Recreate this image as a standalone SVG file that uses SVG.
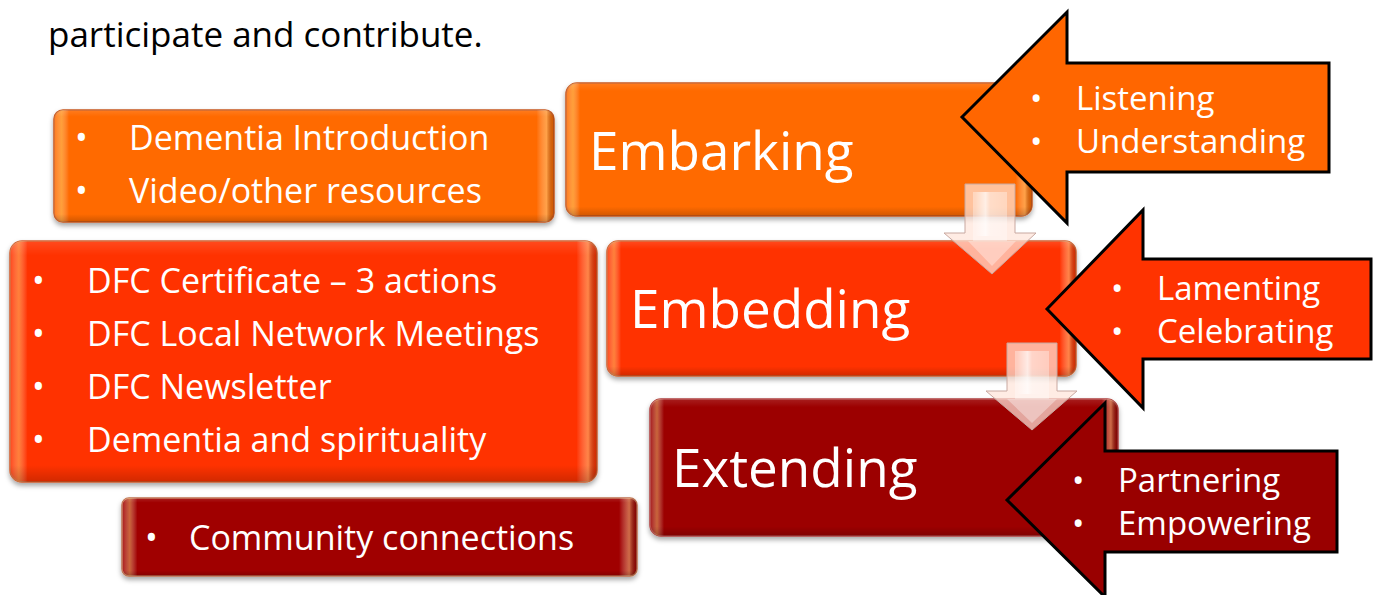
<svg xmlns="http://www.w3.org/2000/svg" width="1378" height="595" viewBox="0 0 1378 595">
<style>
  .t { font-family: "Open Sans", "Noto Sans", "Liberation Sans", sans-serif; fill: #ffffff; }
  .sm { font-size: 34px; }
  .ar { font-size: 33px; }
  .big { font-size: 53px; }
  .head { font-family: "Open Sans", "Noto Sans", "Liberation Sans", sans-serif; font-size: 35px; fill: #000000; }
  .arrow { stroke: #000000; stroke-width: 3; stroke-linejoin: miter; }
  .down { fill: #FFE4DA; fill-opacity: 0.72; stroke: #C8A8A0; stroke-width: 1; }
  .downin { fill: #FFFFFF; fill-opacity: 0.35; }
</style>
<defs>
  <filter id="sh" x="-5%" y="-10%" width="110%" height="125%">
    <feDropShadow dx="0" dy="3" stdDeviation="2.5" flood-color="#000000" flood-opacity="0.35"/>
  </filter>
  <linearGradient id="gloss" x1="0" y1="0" x2="1" y2="0">
    <stop offset="0" stop-color="#ffffff" stop-opacity="0.10"/>
    <stop offset="0.015" stop-color="#ffe080" stop-opacity="0.45"/>
    <stop offset="0.03" stop-color="#ffffff" stop-opacity="0"/>
    <stop offset="0.965" stop-color="#ffffff" stop-opacity="0"/>
    <stop offset="0.985" stop-color="#ffd890" stop-opacity="0.5"/>
    <stop offset="1" stop-color="#000000" stop-opacity="0.15"/>
  </linearGradient>
  <linearGradient id="glossV" x1="0" y1="0" x2="0" y2="1">
    <stop offset="0" stop-color="#ffffff" stop-opacity="0.12"/>
    <stop offset="0.06" stop-color="#ffffff" stop-opacity="0"/>
    <stop offset="0.93" stop-color="#000000" stop-opacity="0"/>
    <stop offset="1" stop-color="#000000" stop-opacity="0.18"/>
  </linearGradient>
  <linearGradient id="dg" x1="0" y1="0" x2="1" y2="0">
    <stop offset="0" stop-color="#ffffff" stop-opacity="0"/>
    <stop offset="0.35" stop-color="#ffffff" stop-opacity="0.6"/>
    <stop offset="0.5" stop-color="#ffffff" stop-opacity="0.15"/>
    <stop offset="1" stop-color="#ffffff" stop-opacity="0"/>
  </linearGradient>
</defs>

<text class="head" x="48" y="47">participate and contribute.</text>

<g id="node-intro">
  <rect x="54" y="110" width="500" height="112" rx="9" fill="#FF6A00" stroke="#C85A20" stroke-width="1.5" filter="url(#sh)"/>
  <rect x="54" y="110" width="500" height="112" rx="9" fill="url(#gloss)"/>
  <rect x="54" y="110" width="500" height="112" rx="9" fill="url(#glossV)"/>
  <text class="t sm" x="75" y="150">•</text>
  <text class="t sm" x="129" y="150">Dementia Introduction</text>
  <text class="t sm" x="75" y="203">•</text>
  <text class="t sm" x="129" y="203">Video/other resources</text>
</g>

<g id="node-dfc">
  <rect x="10" y="241" width="587" height="241" rx="12" fill="#FF3300" stroke="#D06030" stroke-width="1.5" filter="url(#sh)"/>
  <rect x="10" y="241" width="587" height="241" rx="12" fill="url(#gloss)"/>
  <rect x="10" y="241" width="587" height="241" rx="12" fill="url(#glossV)"/>
  <text class="t sm" x="32" y="293">•</text>
  <text class="t sm" x="87" y="293">DFC Certificate – 3 actions</text>
  <text class="t sm" x="32" y="346">•</text>
  <text class="t sm" x="87" y="346">DFC Local Network Meetings</text>
  <text class="t sm" x="32" y="399">•</text>
  <text class="t sm" x="87" y="399">DFC Newsletter</text>
  <text class="t sm" x="32" y="452">•</text>
  <text class="t sm" x="87" y="452">Dementia and spirituality</text>
</g>

<g id="node-community">
  <rect x="122" y="498" width="515" height="78" rx="7" fill="#A00000" stroke="#C07050" stroke-width="1.5" filter="url(#sh)"/>
  <rect x="122" y="498" width="515" height="78" rx="7" fill="url(#gloss)"/>
  <rect x="122" y="498" width="515" height="78" rx="7" fill="url(#glossV)"/>
  <text class="t sm" x="145" y="550">•</text>
  <text class="t sm" x="189" y="550">Community connections</text>
</g>

<g id="node-embarking">
  <rect x="566" y="83" width="466" height="133" rx="11" fill="#FF6A00" stroke="#C85A20" stroke-width="1.5" filter="url(#sh)"/>
  <rect x="566" y="83" width="466" height="133" rx="11" fill="url(#gloss)"/>
  <rect x="566" y="83" width="466" height="133" rx="11" fill="url(#glossV)"/>
  <text class="t big" x="589" y="170">Embarking</text>
</g>

<g id="node-listening">
  <polygon class="arrow" fill="#FF6600" points="962,117 1067,12 1067,63 1329,63 1329,172 1067,172 1067,223"/>
  <text class="t ar" x="1030" y="110">•</text>
  <text class="t ar" x="1076" y="110">Listening</text>
  <text class="t ar" x="1030" y="153">•</text>
  <text class="t ar" x="1076" y="153">Understanding</text>
</g>

<g id="node-embedding">
  <rect x="607" y="241" width="469" height="135" rx="11" fill="#FF3300" stroke="#D06030" stroke-width="1.5" filter="url(#sh)"/>
  <rect x="607" y="241" width="469" height="135" rx="11" fill="url(#gloss)"/>
  <rect x="607" y="241" width="469" height="135" rx="11" fill="url(#glossV)"/>
  <text class="t big" x="630" y="328">Embedding</text>
</g>

<g id="node-lamenting">
  <polygon class="arrow" fill="#FF3300" points="1047,309 1143,210 1143,259 1371,259 1371,359 1143,359 1143,408"/>
  <text class="t ar" x="1111" y="300">•</text>
  <text class="t ar" x="1157" y="300">Lamenting</text>
  <text class="t ar" x="1111" y="343">•</text>
  <text class="t ar" x="1157" y="343">Celebrating</text>
</g>

<g id="node-extending">
  <rect x="650" y="399" width="468" height="137" rx="11" fill="#9C0000" stroke="#B04040" stroke-width="1.5" filter="url(#sh)"/>
  <rect x="650" y="399" width="468" height="137" rx="11" fill="url(#gloss)"/>
  <rect x="650" y="399" width="468" height="137" rx="11" fill="url(#glossV)"/>
  <text class="t big" x="672" y="487">Extending</text>
</g>

<g id="node-partnering">
  <polygon class="arrow" fill="#990000" points="1007,500 1105,403 1105,451 1337,451 1337,552 1105,552 1105,597"/>
  <text class="t ar" x="1072" y="492">•</text>
  <text class="t ar" x="1118" y="492">Partnering</text>
  <text class="t ar" x="1072" y="535">•</text>
  <text class="t ar" x="1118" y="535">Empowering</text>
</g>

<g id="connectors">
  <g id="down-1">
    <polygon class="down" points="965,184 1015,184 1015,233 1036,233 992,274 944,233 965,233"/>
    <polygon class="downin" points="973,192 1007,192 1007,241 1016,241 992,266 968,241 973,241"/>
    <rect x="975" y="192" width="30" height="44" fill="url(#dg)"/>
  </g>
  <g id="down-2">
    <polygon class="down" points="1007,343 1057,343 1057,391 1077,391 1032,430 986,391 1007,391"/>
    <polygon class="downin" points="1015,351 1049,351 1049,399 1057,399 1032,423 1007,399 1015,399"/>
    <rect x="1017" y="351" width="30" height="43" fill="url(#dg)"/>
  </g>
</g>
</svg>
